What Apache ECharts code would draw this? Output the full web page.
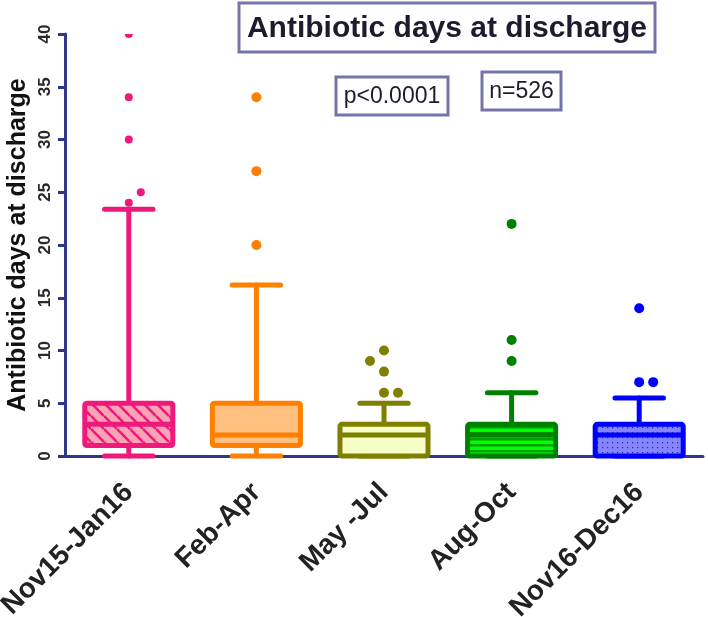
<!DOCTYPE html>
<html><head><meta charset="utf-8">
<script src="https://cdn.jsdelivr.net/npm/echarts@6/dist/echarts.min.js"></script>
<style>html,body{margin:0;padding:0;background:#fff}#c{width:708px;height:617px}</style>
</head><body><div id="c"></div>
<script>
// ---- data ----
const categories = ['Nov15-Jan16', 'Feb-Apr', 'May -Jul', 'Aug-Oct', 'Nov16-Dec16'];
const whiskerLow = [0, 0, 0, 0, 0];
const quartile1 = [1, 1, 0, 0, 0];
const medians = [3, 2, 2, 2, 2];
const quartile3 = [5, 5, 3, 3, 3];
const whiskerHigh = [23.4, 16.2, 5, 6, 5.5];
const outliersNov15Jan16 = [40, 34, 30, 25, 24];
const outliersFebApr = [34, 27, 20];
const outliersMayJul = [10, 9, 8, 6, 6];
const outliersAugOct = [22, 11, 9];
const outliersNov16Dec16 = [14, 7, 7];
const yMin = 0, yMax = 40, yStep = 5;
const titleText = 'Antibiotic days at discharge';
const pText = 'p<0.0001';
const nText = 'n=526';

// ---- styles ----
const FONT = '"Liberation Sans", Arial, sans-serif';
const AXIS = '#2f3886';
const borderColors = ['#ef187b', '#ff8000', '#808000', '#008000', '#0000ff'];
const fillColors = ['#f9a3b5', '#ffc080', '#f6ffc6', '#00ff00', '#8585ff'];
const dotRadius = [4, 5, 5, 5, 5];

function makeCanvas(w, h) { const c = document.createElement('canvas'); c.width = w; c.height = h; return c; }
function hatchPattern() {
  const s = 13, c = makeCanvas(s, s), g = c.getContext('2d');
  g.fillStyle = fillColors[0]; g.fillRect(0, 0, s, s);
  g.strokeStyle = borderColors[0]; g.lineWidth = 2.6;
  for (const k of [-s, 0, s]) { g.beginPath(); g.moveTo(0, k); g.lineTo(s, s + k); g.stroke(); }
  return { image: c, repeat: 'repeat' };
}
function stripePattern() {
  const c = makeCanvas(6, 6), g = c.getContext('2d');
  g.fillStyle = fillColors[3]; g.fillRect(0, 0, 6, 6);
  g.fillStyle = '#00a000'; g.fillRect(0, 0, 6, 2.5);
  return { image: c, repeat: 'repeat' };
}
function dotPattern() {
  const c = makeCanvas(5, 5), g = c.getContext('2d');
  g.fillStyle = fillColors[4]; g.fillRect(0, 0, 5, 5);
  g.fillStyle = '#2020d0'; g.fillRect(2, 2, 1.2, 1.2);
  return { image: c, repeat: 'repeat' };
}
const patterns = [hatchPattern(), null, null, stripePattern(), dotPattern()];

const outlierLists = [outliersNov15Jan16, outliersFebApr, outliersMayJul, outliersAugOct, outliersNov16Dec16];
const boxData = categories.map((c, i) => [i, whiskerLow[i], quartile1[i], medians[i], quartile3[i], whiskerHigh[i]]);
const outlierData = [];
outlierLists.forEach((arr, i) => arr.forEach((v, j) => outlierData.push([i, v, j])));
const labelData = categories.map((c, i) => [i, yMin]);

// swarm offsets computed from axis pixel positions
function swarmOffsets(api, cat) {
  const r = dotRadius[cat];
  const vals = outlierLists[cat].map((v, j) => ({ v, j, y: api.coord([cat, v])[1] }));
  vals.sort((a, b) => a.v - b.v);
  const placed = [], res = {};
  let shifts = 0;
  const thr = 2 * r + 3, step = 2 * r + 4;
  vals.forEach(p => {
    const collide = dx => placed.some(q => Math.hypot(q.dx - dx, q.y - p.y) < thr);
    let dx = 0;
    if (collide(0)) {
      const dir = shifts % 2 === 0 ? 1 : -1; shifts++;
      dx = dir * step;
      if (collide(dx)) dx = -dx;
    }
    placed.push({ dx, y: p.y });
    res[p.j] = dx;
  });
  return res;
}

const chart = echarts.init(document.getElementById('c'), null, { renderer: 'canvas' });
const option = {
  backgroundColor: '#ffffff',
  animation: false,
  grid: { left: 65, right: 5, top: 34, bottom: 161, containLabel: false, outerBoundsMode: 'none' },
  xAxis: {
    type: 'category', data: categories,
    axisLine: { lineStyle: { color: AXIS, width: 3 } },
    axisTick: { alignWithLabel: true, length: 8, lineStyle: { color: AXIS, width: 3 } },
    axisLabel: { show: false },
    splitLine: { show: false }
  },
  yAxis: {
    type: 'value', min: yMin, max: yMax, interval: yStep,
    name: titleText, nameLocation: 'middle', nameGap: 34, nameMoveOverlap: false,
    nameTextStyle: { fontSize: 25, fontWeight: 'bold', color: '#111', fontFamily: FONT },
    axisLine: { show: true, lineStyle: { color: AXIS, width: 3 } },
    axisTick: { show: true, length: 7, lineStyle: { color: AXIS, width: 3 } },
    axisLabel: { rotate: 90, fontSize: 17, fontWeight: 'bold', color: '#2a2a2a', fontFamily: FONT, margin: 11 },
    splitLine: { show: false }
  },
  series: [
    {
      type: 'custom', name: 'box', z: 3,
      data: boxData,
      encode: { x: 0, y: [1, 2, 3, 4, 5] },
      renderItem: function (params, api) {
        const i = api.value(0);
        const x = api.coord([i, 0])[0];
        const band = api.size([1, 0])[0];
        const bw = band * 0.69, cw = band * 0.38;
        const yLow = api.coord([i, api.value(1)])[1];
        const yQ1 = api.coord([i, api.value(2)])[1];
        const yMed = api.coord([i, api.value(3)])[1];
        const yQ3 = api.coord([i, api.value(4)])[1];
        const yHigh = api.coord([i, api.value(5)])[1];
        const col = borderColors[i];
        const ls = { stroke: col, lineWidth: 5, lineCap: 'round' };
        const children = [
          { type: 'line', shape: { x1: x, y1: yHigh, x2: x, y2: yQ3 }, style: ls },
          { type: 'line', shape: { x1: x, y1: yQ1, x2: x, y2: yLow }, style: ls },
          { type: 'line', shape: { x1: x - cw / 2, y1: yHigh, x2: x + cw / 2, y2: yHigh }, style: ls },
          { type: 'line', shape: { x1: x - cw / 2, y1: yLow, x2: x + cw / 2, y2: yLow }, style: ls },
          { type: 'rect', shape: { x: x - bw / 2, y: yQ3, width: bw, height: yQ1 - yQ3 }, style: { fill: patterns[i] || fillColors[i] } },
          { type: 'line', shape: { x1: x - bw / 2, y1: yMed, x2: x + bw / 2, y2: yMed }, style: { stroke: col, lineWidth: 5 } },
          { type: 'rect', shape: { x: x - bw / 2, y: yQ3, width: bw, height: yQ1 - yQ3, r: 2 }, style: { fill: null, stroke: col, lineWidth: 5, lineJoin: 'round' } }
        ];
        return { type: 'group', children };
      }
    },
    {
      type: 'custom', name: 'outliers', z: 4, clip: true,
      data: outlierData,
      encode: { x: 0, y: 1 },
      renderItem: function (params, api) {
        const i = api.value(0), v = api.value(1), j = api.value(2);
        const p = api.coord([i, v]);
        const offs = swarmOffsets(api, i);
        return { type: 'circle', shape: { cx: p[0] + offs[j], cy: p[1], r: dotRadius[i] }, style: { fill: borderColors[i] } };
      }
    },
    {
      type: 'custom', name: 'xlabels', z: 5, clip: false, silent: true,
      data: labelData,
      encode: { x: 0, y: 1 },
      renderItem: function (params, api) {
        const i = api.value(0);
        const p = api.coord([i, api.value(1)]);
        return {
          type: 'text', x: p[0], y: p[1] + 32, rotation: Math.PI / 4,
          style: { text: categories[i], font: 'bold 28px ' + FONT, fill: '#222', align: 'right', verticalAlign: 'middle' }
        };
      }
    }
  ],
  graphic: [
    { type: 'rect', shape: { x: 239, y: 3, width: 416, height: 49 }, style: { fill: '#fff', stroke: '#7474a8', lineWidth: 3 }, z: 10 },
    { type: 'text', x: 447, y: 29, style: { text: titleText, font: 'bold 30px ' + FONT, fill: '#1c1c2e', align: 'center', verticalAlign: 'middle' }, z: 11 },
    { type: 'rect', shape: { x: 336, y: 77, width: 112, height: 38 }, style: { fill: '#fff', stroke: '#7474a8', lineWidth: 3 }, z: 10 },
    { type: 'text', x: 392, y: 97, style: { text: pText, font: '23px ' + FONT, fill: '#1c1c2e', align: 'center', verticalAlign: 'middle' }, z: 11 },
    { type: 'rect', shape: { x: 482, y: 72, width: 79, height: 38 }, style: { fill: '#fff', stroke: '#7474a8', lineWidth: 3 }, z: 10 },
    { type: 'text', x: 521.5, y: 92, style: { text: nText, font: '23px ' + FONT, fill: '#1c1c2e', align: 'center', verticalAlign: 'middle' }, z: 11 }
  ]
};
chart.setOption(option);
</script>
</body></html>
